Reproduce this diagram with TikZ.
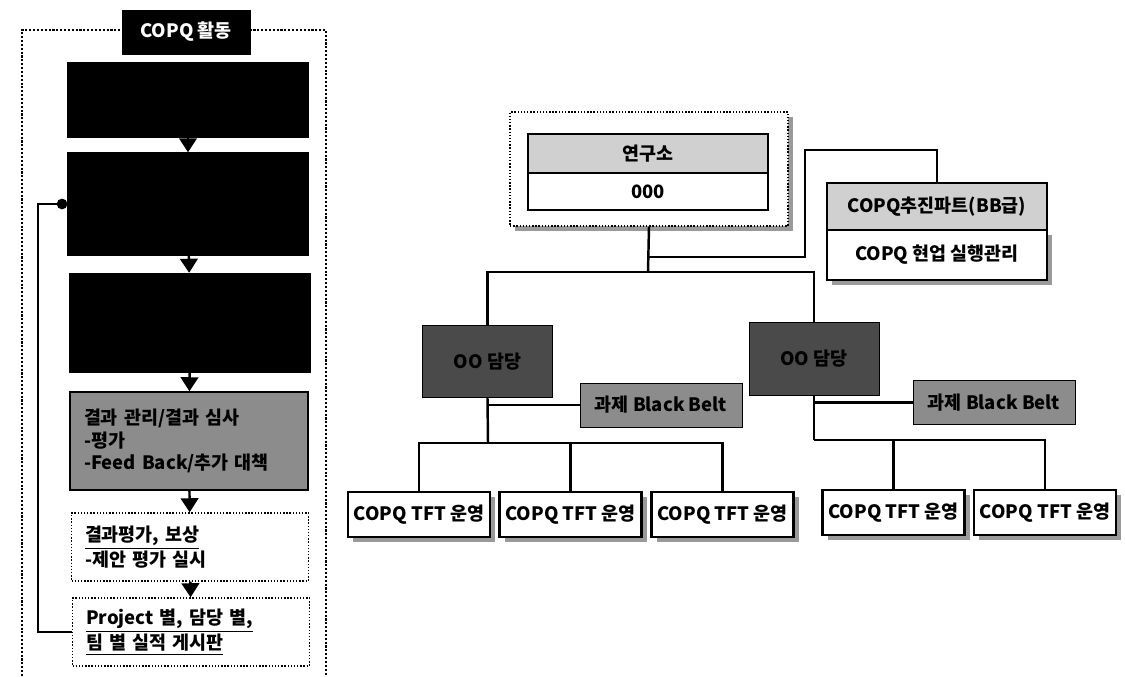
\documentclass[tikz,border=0pt]{standalone}
\usepackage{fontspec}
\setmainfont{Noto Sans CJK KR}
\usepackage{tikz}
\usetikzlibrary{arrows.meta,calc,positioning,shadows}
\definecolor{boxgray}{HTML}{8C8C8C}
\definecolor{leadgray}{HTML}{4A4A4A}
\definecolor{headgray}{HTML}{D0D0D0}
\definecolor{shadowgray}{HTML}{9A9A9A}

\begin{document}
\begin{tikzpicture}[x=0.02cm,y=-0.02cm,font=\fontsize{10.5}{13}\selectfont\bfseries]
  \tikzset{flowbox/.style={draw, thick, fill=black, minimum width=4.8cm, align=left},
    plainbox/.style={draw, thick, densely dotted, fill=white, minimum width=4.74cm, minimum height=1.36cm, align=left, text width=4.2cm},
    headbox/.style={draw, line width=1.4pt, fill=headgray, align=center},
    leadbox/.style={draw, fill=leadgray, minimum width=2.6cm, minimum height=1.45cm},
    sidebox/.style={draw, fill=boxgray, minimum width=3.24cm, minimum height=0.88cm},
    tftbox/.style={draw, line width=1.4pt, fill=white, minimum width=2.84cm, minimum height=0.9cm, inner xsep=1pt, drop shadow={shadow xshift=3pt, shadow yshift=-3pt, fill=shadowgray, opacity=1}},
    link/.style={line width=1.4pt}}
  \useasboundingbox (0,0) rectangle (1125,676);
  % left column
  \draw[line width=1.2pt, densely dotted] (22,676) -- (22,30) -- (326,30) -- (326,676);
  \node[draw, fill=black, text=white, minimum width=2.56cm, minimum height=0.88cm] (act) at (186,32) {COPQ 활동};
  \node[flowbox, minimum height=1.5cm] (b1) at (188,100) {};
  \node[flowbox, minimum height=2.04cm] (b2) at (188,204) {};
  \node[flowbox, minimum height=1.98cm] (b3) at (190,323) {};
  \node[draw, thick, fill=boxgray, minimum width=4.76cm, minimum height=1.96cm, align=left, text width=4.2cm] (b4) at (189,441) {결과 관리/결과 심사\\-평가\\-Feed Back/추가 대책};
  \node[plainbox] (b5) at (190,547) {\underline{결과평가, 보상}\\-제안 평가 실시};
  \node[plainbox] (b6) at (191,632) {\underline{Project 별, 담당 별,}\\\underline{팀 별 실적 게시판}};
  \foreach \a/\b in {b1/b2,b2/b3,b3/b4,b4/b5,b5/b6}
    \draw[link, -{Triangle[width=10pt,length=8pt]}] (\a) -- (\b);
  \draw[link, -{Circle[length=6pt]}] (b6.west) -- ++(-34,0) |- (b2.west);
  % organisation
  \node[draw, thick, densely dotted, minimum width=5.56cm, minimum height=2.28cm, drop shadow={shadow xshift=3pt, shadow yshift=-3pt, fill=shadowgray, opacity=1}, fill=white] (lab) at (649,169) {};
  \node[headbox, minimum width=4.8cm, minimum height=0.78cm] (labhead) at (648,153.5) {연구소};
  \node[draw, line width=1.4pt, fill=white, minimum width=4.8cm, minimum height=0.74cm] (labbody) at (648,191.5) {000};
  \node[draw, line width=1.4pt, fill=white, minimum width=4.4cm, minimum height=1.0cm, drop shadow={shadow xshift=3pt, shadow yshift=-3pt, fill=shadowgray, opacity=1}] (copqbody) at (937,255) {COPQ 현업 실행관리};
  \node[headbox, minimum width=4.4cm, minimum height=0.94cm] (copqhead) at (937,206.5) {COPQ추진파트(BB급)};
  \coordinate (top) at (648,272);
  \coordinate (split) at (648,257);
  \draw[link] (lab.south) -- (top);
  \draw[link] (split) -| (805,150) -| (copqhead.north);
  \node[leadbox] (leadA) at (487.5,361.5) {OO 담당};
  \node[leadbox] (leadB) at (814,359) {OO 담당};
  \draw[link] (top) -| (leadA.north);
  \draw[link] (top) -| (leadB.north);
  \node[sidebox] (sideA) at (661,405) {과제 Black Belt};
  \node[sidebox] (sideB) at (994,402.5) {과제 Black Belt};
  \node[tftbox] (tftA) at (419,514.5) {COPQ TFT 운영};
  \node[tftbox] (tftB) at (570.5,514.5) {COPQ TFT 운영};
  \node[tftbox] (tftC) at (722.5,514.5) {COPQ TFT 운영};
  \node[tftbox] (tftD) at (893.5,512.5) {COPQ TFT 운영};
  \node[tftbox] (tftE) at (1045,512.5) {COPQ TFT 운영};
  \coordinate (hubA) at (488,443);
  \coordinate (hubB) at (814,440);
  \draw[link] (leadA.south) -- (hubA);
  \draw[link] (leadA.south |- sideA.west) -- (sideA.west);
  \draw[link] (hubA) -| (tftA.north);
  \draw[link] (hubA) -| (tftB.north);
  \draw[link] (hubA) -| (tftC.north);
  \draw[link] (leadB.south) -- (hubB);
  \draw[link] (leadB.south |- sideB.west) -- (sideB.west);
  \draw[link] (hubB) -| (tftD.north);
  \draw[link] (hubB) -| (tftE.north);
\end{tikzpicture}
\end{document}
